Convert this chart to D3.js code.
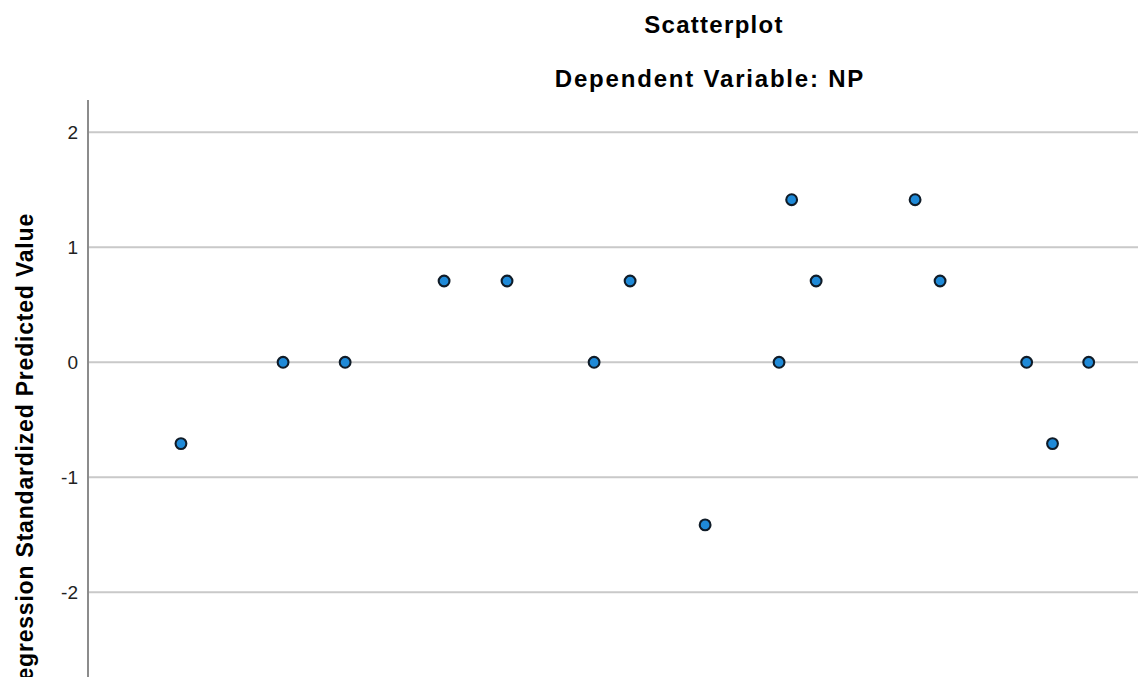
<!DOCTYPE html>
<html>
<head>
<meta charset="utf-8">
<script src="https://cdn.jsdelivr.net/npm/d3@7"></script>
<style>
  html, body { margin: 0; padding: 0; background: #ffffff; }
  svg { display: block; }
</style>
</head>
<body>
<svg id="chart" width="1138" height="677"></svg>
<script>
// ---- data ----
const title = "Scatterplot";
const subtitle = "Dependent Variable: NP";
const yAxisLabel = "Regression Standardized Predicted Value";
const yTicks = [2, 1, 0, -1, -2];
// x: position along the (unseen) horizontal variable
const xValues = [-2.474, -1.890, -1.535, -0.969, -0.609, -0.111, 0.095, 0.524,
                 0.947, 1.019, 1.159, 1.725, 1.868, 2.363, 2.511, 2.718];
// y: regression standardized predicted value
const yValues = [-0.707, 0, 0, 0.707, 0.707, 0, 0.707, -1.414,
                 0, 1.414, 0.707, 1.414, 0.707, 0, -0.707, 0];

// ---- layout ----
const W = 1138, H = 677;
const axisX = 88;
const svg = d3.select("#chart");

const x = d3.scaleLinear().domain([-3, 3]).range([axisX + 1, W]);
const y = d3.scaleLinear().domain([0, 1]).range([362.3, 247.3]);

const font = "Arial, 'Liberation Sans', sans-serif";

// gridlines
svg.append("g")
  .selectAll("line")
  .data(yTicks)
  .join("line")
  .attr("x1", axisX)
  .attr("x2", W)
  .attr("y1", d => y(d))
  .attr("y2", d => y(d))
  .attr("stroke", "#c9c9c9")
  .attr("stroke-width", 2);

// y axis
const yAxis = d3.axisLeft(y).tickValues(yTicks).tickSize(0).tickPadding(10).tickFormat(d => String(d));
const gY = svg.append("g").attr("transform", `translate(${axisX},0)`).call(yAxis);
gY.select(".domain").remove();
gY.selectAll("text")
  .attr("font-family", font)
  .attr("font-size", 19)
  .attr("fill", "#222");
svg.append("line")
  .attr("x1", axisX).attr("x2", axisX)
  .attr("y1", y(2.28)).attr("y2", H)
  .attr("stroke", "#8c8c8c")
  .attr("stroke-width", 2);

// points
svg.append("g")
  .selectAll("circle")
  .data(xValues.map((v, i) => ({x: v, y: yValues[i]})))
  .join("circle")
  .attr("cx", d => x(d.x))
  .attr("cy", d => y(d.y))
  .attr("r", 5.4)
  .attr("fill", "#1f8ad8")
  .attr("stroke", "#101c28")
  .attr("stroke-width", 2.1);

// titles
svg.append("text")
  .attr("x", 714).attr("y", 33)
  .attr("text-anchor", "middle")
  .attr("font-family", font)
  .attr("font-weight", "bold")
  .attr("font-size", 24)
  .attr("letter-spacing", 1.3)
  .attr("fill", "#000")
  .text(title);
svg.append("text")
  .attr("x", 710).attr("y", 87)
  .attr("text-anchor", "middle")
  .attr("font-family", font)
  .attr("font-weight", "bold")
  .attr("font-size", 24)
  .attr("letter-spacing", 1.8)
  .attr("fill", "#000")
  .text(subtitle);

// y axis label
svg.append("text")
  .attr("transform", "translate(33,213) rotate(-90)")
  .attr("text-anchor", "end")
  .attr("font-family", font)
  .attr("font-weight", "bold")
  .attr("font-size", 23)
  .attr("letter-spacing", 0.8)
  .attr("fill", "#000")
  .text(yAxisLabel);
</script>
</body>
</html>
